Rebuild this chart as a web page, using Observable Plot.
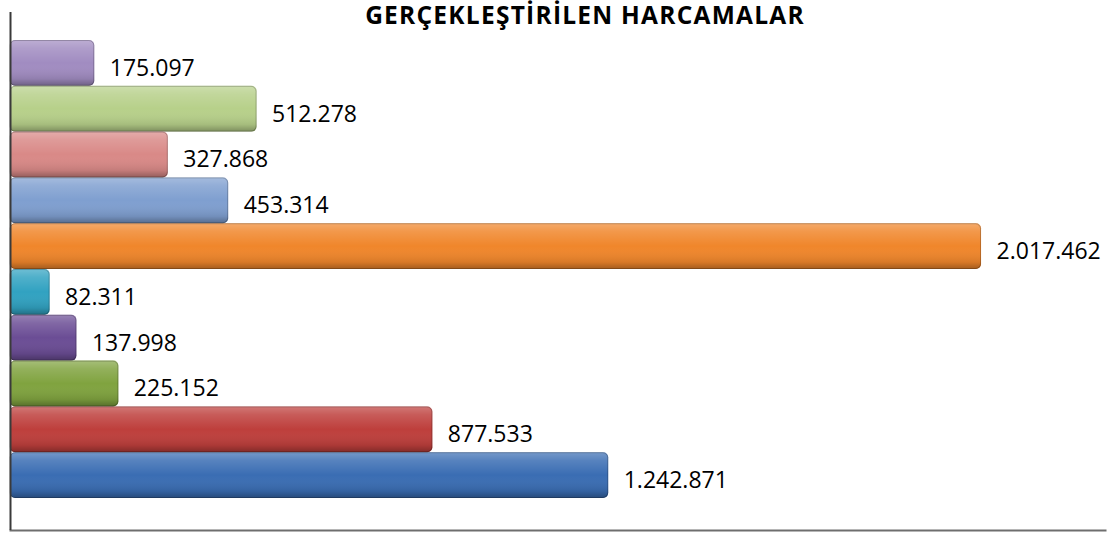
<!DOCTYPE html>
<html><head><meta charset="utf-8">
<script src="https://cdn.jsdelivr.net/npm/d3@7"></script>
<script src="https://cdn.jsdelivr.net/npm/@observablehq/plot@0.6"></script>
<style>
body{margin:0;background:#fff;}
#wrap{position:relative;width:1110px;height:533px;}
#title{position:absolute;left:585px;top:3px;transform:translateX(-50%);font:bold 24.5px 'Open Sans';letter-spacing:1.25px;white-space:nowrap;line-height:1;color:#000;}
</style>
</head><body>
<svg width="0" height="0" style="position:absolute"><defs>
<linearGradient id="shade" x1="0" y1="0" x2="0" y2="1">
<stop offset="0" stop-color="#fff" stop-opacity="0.30"/>
<stop offset="0.18" stop-color="#fff" stop-opacity="0.15"/>
<stop offset="0.5" stop-color="#fff" stop-opacity="0"/>
<stop offset="0.85" stop-color="#000" stop-opacity="0.10"/>
<stop offset="1" stop-color="#000" stop-opacity="0.32"/>
</linearGradient>
</defs></svg>
<div id="wrap"><div id="title">GERÇEKLEŞTİRİLEN HARCAMALAR</div></div>
<script>
// top to bottom
const categories = ["1","2","3","4","5","6","7","8","9","10"];
const values = [175097, 512278, 327868, 453314, 2017462, 82311, 137998, 225152, 877533, 1242871];
const colors = ["#a18cc1","#b7d08a","#d98987","#7f9fd0","#f0862b","#31a2c1","#6b4d95","#80a33f","#be3f3c","#3a6db3"];

const fmt = d3.formatLocale({decimal: ",", thousands: ".", grouping: [3], currency: ["", ""]}).format(",");
const data = categories.map((c, i) => ({cat: c, value: values[i], color: colors[i], label: fmt(values[i])}));

const chart = Plot.plot({
  width: 1110, height: 533,
  marginLeft: 10, marginRight: 5, marginTop: 12, marginBottom: 3,
  x: {domain: [0, 2275000], axis: null},
  y: {domain: categories, axis: null, paddingInner: 0, paddingOuter: 0.655, align: 0.467, round: false},
  color: {type: "identity"},
  style: {background: "transparent"},
  marks: [
    Plot.barX(data, {x: "value", y: "cat", fill: "color", rx: 5, inset: 0}),
    Plot.barX(data, {x: "value", y: "cat", fill: "url(#shade)", rx: 5, inset: 0}),
    Plot.barX(data, {x: "value", y: "cat", fill: "none", stroke: "#000", strokeOpacity: 0.22, strokeWidth: 1, rx: 5, insetTop: 0.5, insetBottom: 0.5, insetRight: 0.5}),
    Plot.text(data, {x: "value", y: "cat", text: "label", dx: 15, dy: 5, textAnchor: "start", fontSize: 23, fontFamily: "Open Sans", fill: "#000"}),
    Plot.frame({anchor: "bottom", stroke: "#6e6e6e", strokeWidth: 2}),
    Plot.ruleX([0], {stroke: "#3a3a3a", strokeWidth: 2})
  ]
});
document.getElementById("wrap").appendChild(chart);
</script>
</body></html>
